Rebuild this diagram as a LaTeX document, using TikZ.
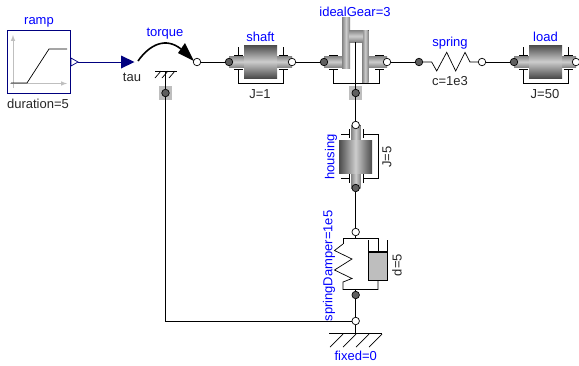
\documentclass[tikz,border=0pt]{standalone}
\usepackage{fontspec}
\setmainfont{Liberation Sans}
\definecolor{navy}{RGB}{0,0,127}
\definecolor{flangedark}{RGB}{95,95,95}
\definecolor{massdark}{RGB}{75,75,75}
\definecolor{masslight}{RGB}{205,205,205}
\definecolor{axisdark}{RGB}{130,130,130}
\definecolor{supportgray}{RGB}{190,190,190}
\begin{document}
\begin{tikzpicture}[
    x=1pt,y=-1pt,line width=.7pt,
    every node/.style={font=\fontsize{13pt}{13pt}\selectfont},
    instname/.style={text=blue},
    param/.style={text=black!85},
    flangea/.style={circle,draw=black,fill=flangedark,inner sep=0pt,minimum size=7.5pt},
    flangeb/.style={circle,draw=black,fill=white,inner sep=0pt,minimum size=7.5pt},
    supportbox/.style={fill=supportgray,inner sep=0pt,minimum size=13.5pt},
    hmass/.style={top color=massdark,bottom color=massdark,middle color=masslight},
    vmass/.style={left color=massdark,right color=massdark,middle color=masslight},
    haxis/.style={top color=axisdark,bottom color=axisdark,middle color=masslight},
    vaxis/.style={left color=axisdark,right color=axisdark,middle color=masslight}]
    \useasboundingbox (0,0) rectangle (579,365);
    % ramp block
    \node[draw=navy,fill=white,line width=.9pt,inner sep=0pt,minimum width=62.5pt,
        minimum height=63pt] (ramp) at (39,61.5) {};
    \draw[-latex,black!25,line width=1pt] (13,88) -- (13,35);
    \draw[-latex,black!25,line width=1pt] (10,83.5) -- (67,83.5);
    \draw (11,83) -- (27,83) -- (49,49) -- (67,49);
    \draw[navy,fill=white] (71,58) -- (78,62) -- (71,66) -- cycle;
    \coordinate (rampout) at (78,62);
    \coordinate (tauin) at (122,62);
    \draw[navy] (rampout) -- (tauin);
    \fill[navy] (121,55.5) -- (134.5,62) -- (121,68.5) -- cycle;
    \node[instname] (ramplabel) at (39,22.5) {ramp};
    \node[param] (duration) at (38,104) {duration=5};
    \node[param] (tau) at (132,77) {tau};
    % torque
    \node[flangeb] (torqueb) at (197,62) {};
    \draw[line width=1.6pt] (138,61) .. controls (150,44) and (166,37) .. (181,49);
    \fill (178,53) -- (185,43) -- (194,61) -- cycle;
    \draw (155,71) -- (177,71);
    \foreach \hx in {161,168,175} {
        \draw (\hx,71) -- (\hx-6,78);
    }
    \node[supportbox] (torquesupbox) at (165.5,93) {};
    \node[flangea] (torquesup) at (165.5,93) {};
    \coordinate (torquefix) at (165.5,71);
    \node[instname] (torquelabel) at (165,33.5) {torque};
    % inertias on the top row
    \foreach \nm/\lx/\rx/\mx/\lab/\val in {shaft/229/292/260.5/shaft/J=1,load/514/576/545.5/load/J=50} {
        \fill[haxis] (\lx,56) rectangle (\rx,67.5);
        \fill[hmass] (\mx-16.5,45) rectangle (\mx+16.5,78);
        \draw (\mx-22,47) -- (\mx-22,55) (\mx-26.5,55) -- (\mx-17.5,55);
        \draw (\mx+22.5,47) -- (\mx+22.5,55) (\mx+18,55) -- (\mx+27,55);
        \draw (\mx-26.5,69.5) -- (\mx-17.5,69.5) (\mx+18,69.5) -- (\mx+27,69.5);
        \draw (\mx-22,69.5) -- (\mx-22,83) -- (\mx+22.5,83) -- (\mx+22.5,69.5);
        \node[flangea] (\nm a) at (\lx,62) {};
        \node[flangeb] (\nm b) at (\rx,62) {};
        \node[instname] (\nm label) at (\mx,37) {\lab};
        \node[param] (\nm val) at (\mx-.5,94) {\val};
    }
    % ideal gear
    \fill[haxis] (324,56) rectangle (345,67.5);
    \fill[haxis] (368,56) rectangle (387,67.5);
    \fill[vaxis] (342,17) rectangle (350,68);
    \fill[vaxis] (362,30) rectangle (368.5,82);
    \fill[haxis] (349,30) rectangle (363,42);
    \draw (329,55) -- (338,55) (375,55) -- (384,55);
    \draw (329,69.5) -- (338,69.5) (375,69.5) -- (384,69.5);
    \draw (333.5,69.5) -- (333.5,83) -- (379.5,83) -- (379.5,69.5);
    \coordinate (gearpin) at (355.7,42);
    \node[flangea] (geara) at (324,62) {};
    \node[flangeb] (gearb) at (387,62) {};
    \node[supportbox] (gearsupbox) at (355.7,93) {};
    \node[flangea] (gearsup) at (355.7,93) {};
    \draw (gearpin) -- (gearsup);
    \node[instname] (gearlabel) at (355,11.5) {idealGear=3};
    % spring
    \node[flangea] (springa) at (419,62) {};
    \node[flangeb] (springb) at (482,62) {};
    \draw (springa) -- (431.7,62) -- (436.7,71) -- (446.7,52.3) -- (455.7,71)
        -- (465,52.3) -- (470,62) -- (springb);
    \node[instname] (springlabel) at (450,43) {spring};
    \node[param] (springval) at (450,81) {c=1e3};
    % housing
    \fill[vaxis] (351,125) rectangle (360.5,188);
    \fill[vmass] (339,140) rectangle (372,173);
    \draw (341,134) -- (349.5,134) (349.5,129) -- (349.5,138);
    \draw (341,178) -- (349.5,178) (349.5,174) -- (349.5,183);
    \draw (363,129) -- (363,138) (363,183) -- (363,174);
    \draw (363,134) -- (378,134) -- (378,178) -- (363,178);
    \node[flangeb] (housingb) at (355.7,125) {};
    \node[flangea] (housinga) at (355.7,188) {};
    \node[instname,rotate=90] (housinglabel) at (331,157) {housing};
    \node[param,rotate=90] (housingval) at (387,157) {J=5};
    % spring and damper
    \node[flangeb] (sdb) at (355.7,232) {};
    \node[flangea] (sda) at (355.7,295) {};
    \coordinate (sdtop) at (355.7,238);
    \coordinate (sdbot) at (355.7,289.5);
    \draw (343,244) -- (343,238) -- (378,238) -- (378,252);
    \draw (343,244) -- (334.5,250.5) -- (352,259) -- (334.5,270) -- (352,278.5)
        -- (343,282) -- (343,289.5) -- (378,289.5) -- (378,280);
    \fill[supportgray] (368,252) rectangle (387,280);
    \draw (368,240) -- (368,280) -- (387,280) -- (387,240);
    \draw[line width=1.1pt] (368,252) -- (387,252);
    \draw (sdb) -- (sdtop) (sdbot) -- (sda);
    \node[instname,rotate=90] (sdlabel) at (329,266) {springDamper=1e5};
    \node[param,rotate=90] (sdval) at (397,265) {d=5};
    % fixed
    \node[flangeb] (fixedflange) at (355.7,321) {};
    \coordinate (fixedbar) at (355.7,333);
    \draw (329,333) -- (382,333);
    \foreach \hx in {343,356,369,382} {
        \draw (\hx,334) -- (\hx-13,347);
    }
    \node[instname] (fixedlabel) at (355.7,355.5) {fixed=0};
    % connections
    \draw (torqueb) -- (shafta);
    \draw (shaftb) -- (geara);
    \draw (gearb) -- (springa);
    \draw (springb) -- (loada);
    \draw (gearsup) -- (housingb);
    \draw (housinga) -- (sdb);
    \draw (sda) -- (fixedflange);
    \draw (fixedflange) -- (fixedbar);
    \draw (torquefix) -- (torquesup);
    \draw (torquesup) |- (fixedflange);
\end{tikzpicture}
\end{document}
